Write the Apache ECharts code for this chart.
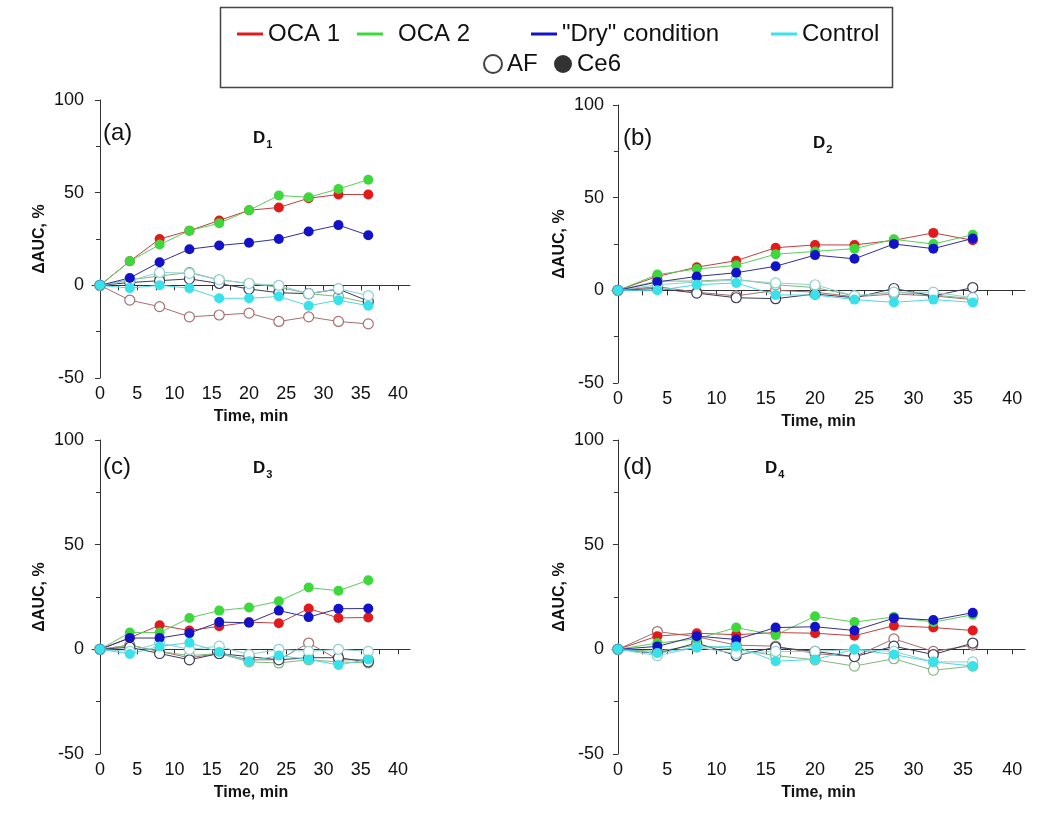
<!DOCTYPE html>
<html lang="en">
<head>
    <meta charset="UTF-8">
    <title>AUC vs time</title>
    <script src="https://cdn.jsdelivr.net/npm/echarts@6.0.0/dist/echarts.min.js"></script>
    <style>
        html, body { margin: 0; padding: 0; background: #fff; }
        #chart { width: 1057px; height: 816px; }
    </style>
</head>
<body>
<div id="chart"></div>
<script>
    // time points, min
    var times = [0, 4, 8, 12, 16, 20, 24, 28, 32, 36];
    var xTickValues = [0, 2.5, 5, 7.5, 10, 12.5, 15, 17.5, 20, 22.5, 25, 27.5, 30, 32.5, 35, 37.5, 40];
    var xLabelValues = [0, 5, 10, 15, 20, 25, 30, 35, 40];
    var panelLetters = ['(a)', '(b)', '(c)', '(d)'];
    var panelSubs = ['1', '2', '3', '4'];
    var condNames = ['OCA 1', 'OCA 2', '"Dry" condition', 'Control'];

    // D1
    var D1_OCA1_Ce6 = [0, 13, 25, 29.5, 35, 40.5, 42, 47, 49, 49];
    var D1_OCA2_Ce6 = [0, 13, 22, 29.5, 33.5, 40.5, 48.5, 47.5, 52, 57];
    var D1_Dry_Ce6 = [0, 4, 12.5, 19.5, 21.5, 23, 25, 29, 32.5, 27];
    var D1_Ctrl_Ce6 = [0, -1.5, 0, -1.5, -7, -7, -6, -11, -8, -11];
    var D1_OCA1_AF = [0, -8, -11.5, -17, -16, -15, -19.5, -17, -19.5, -20.8];
    var D1_OCA2_AF = [0, 3, 5, 7, 3, 1, -1, -4.5, -6, -9.5];
    var D1_Dry_AF = [0, 1.5, 2.5, 3.5, 1, -2, -4, -4.5, -2, -8.5];
    var D1_Ctrl_AF = [0, 2.5, 7, 6.5, 3, 1, 0, -4.5, -1.8, -5.5];

    // D2
    var D2_OCA1_Ce6 = [0, 7.5, 12.5, 16, 23, 24.5, 24.5, 27, 31, 27];
    var D2_OCA2_Ce6 = [0, 8.5, 11.5, 13.5, 19.5, 21, 22.5, 27.5, 25, 30];
    var D2_Dry_Ce6 = [0, 4.5, 7.5, 9.5, 13, 19, 17, 25, 22.5, 28];
    var D2_Ctrl_Ce6 = [0, 0, 3, 4, -2.5, -2.5, -5, -6.5, -5, -6.5];
    var D2_OCA1_AF = [0, 2, -1, -3, 0, -1, -3.5, -2, -3, -5];
    var D2_OCA2_AF = [0, 5, 5, 6, 3, 1.5, -3, -1, -2.5, -4.5];
    var D2_Dry_AF = [0, 1, -1.5, -4, -4.5, -2, -4, 1, -3, 1.5];
    var D2_Ctrl_AF = [0, 3, 4.5, 5.5, 4, 3, -3, -1, -1, -4];

    // D3
    var D3_OCA1_Ce6 = [0, 5.5, 11.5, 9, 11, 13, 12.5, 19.5, 15, 15.2];
    var D3_OCA2_Ce6 = [0, 8, 8, 15, 18.5, 20, 23, 29.5, 28, 33];
    var D3_Dry_Ce6 = [0, 5.4, 5.4, 7.7, 13, 12.7, 18.5, 15.4, 19.4, 19.5];
    var D3_Ctrl_Ce6 = [0, -2.2, 1.4, 3.2, -1.3, -5.7, -3, -4.8, -7.5, -4.8];
    var D3_OCA1_AF = [0, 2, -1, -4, -2, -5, -5, 3, -5, -5];
    var D3_OCA2_AF = [0, 2, -1, -3, -2, -6, -6.5, -5, -6, -6.5];
    var D3_Dry_AF = [0, 1, -2, -5, -2, -3.5, -5, -4, -4, -6];
    var D3_Ctrl_AF = [0, -1, 3, 0, 1.5, -2.5, 0, -1, 0, -1];

    // D4
    var D4_OCA1_Ce6 = [0, 6.3, 7.7, 7, 8, 7.7, 6.5, 11.3, 10.4, 9];
    var D4_OCA2_Ce6 = [0, 3, 5, 10.4, 6.8, 15.8, 13, 15.5, 13, 16.5];
    var D4_Dry_Ce6 = [0, 1.4, 6.3, 4.7, 10.4, 10.8, 9, 14.9, 14, 17.5];
    var D4_Ctrl_Ce6 = [0, -1.8, 1, 1.4, -5.7, -4.8, 0, -2.5, -6, -8];
    var D4_OCA1_AF = [0, 8.5, 6, 2, 1.5, -2, -3.5, 5, -1, 2];
    var D4_OCA2_AF = [0, -1, 2, 0, -3, -5, -8, -4.5, -10, -8];
    var D4_Dry_AF = [0, -2, 3, -3, 1, -1, -3.5, 1.5, -2.5, 3];
    var D4_Ctrl_AF = [0, -3, 1, -2, -1, -1, 0, -1, -6, -6];

    var panelsCe6 = [
        [D1_OCA1_Ce6, D1_OCA2_Ce6, D1_Dry_Ce6, D1_Ctrl_Ce6],
        [D2_OCA1_Ce6, D2_OCA2_Ce6, D2_Dry_Ce6, D2_Ctrl_Ce6],
        [D3_OCA1_Ce6, D3_OCA2_Ce6, D3_Dry_Ce6, D3_Ctrl_Ce6],
        [D4_OCA1_Ce6, D4_OCA2_Ce6, D4_Dry_Ce6, D4_Ctrl_Ce6]
    ];
    var panelsAF = [
        [D1_OCA1_AF, D1_OCA2_AF, D1_Dry_AF, D1_Ctrl_AF],
        [D2_OCA1_AF, D2_OCA2_AF, D2_Dry_AF, D2_Ctrl_AF],
        [D3_OCA1_AF, D3_OCA2_AF, D3_Dry_AF, D3_Ctrl_AF],
        [D4_OCA1_AF, D4_OCA2_AF, D4_Dry_AF, D4_Ctrl_AF]
    ];

    // styles
    var fillColors = ['#e11b1b', '#3cd83c', '#1212c8', '#38e2ea'];
    var lineColors = ['#c04040', '#5ccc5c', '#303090', '#50d8e0'];
    var afColors = ['#a86e6e', '#80b880', '#3c3c58', '#90cfd4'];
    var font = 'Liberation Sans';

    // left panels are narrower than right ones in the original figure
    var grids = [
        {left: 92, top: 100, width: 318, height: 278},
        {left: 612, top: 105, width: 413, height: 278},
        {left: 92, top: 440, width: 318, height: 314},
        {left: 612, top: 440, width: 413, height: 314}
    ];
    var xRange = [[-1.07, 41.6], [-0.6, 41.3], [-1.07, 41.6], [-0.6, 41.3]];
    var letterPos = [[98, 116], [618, 121], [98, 450], [618, 450]];
    var subPos = [[248, 122], [808, 127], [248, 452], [760, 452]];

    function pairs(arr) {
        return times.map(function (t, i) { return [t, arr[i]]; });
    }

    var chart = echarts.init(document.getElementById('chart'), null, {renderer: 'canvas'});

    var xAxes = [], yAxes = [], series = [], titles = [];
    grids.forEach(function (g, p) {
        g.containLabel = false;
        g.outerBoundsMode = 'none';
        xAxes.push({
            type: 'value', gridIndex: p, min: xRange[p][0], max: xRange[p][1],
            name: 'Time, min', nameLocation: 'middle', nameGap: 31,
            nameTextStyle: {fontFamily: font, fontWeight: 'bold', fontSize: 16, color: '#111'},
            axisLine: {show: true, lineStyle: {color: '#333', width: 1}},
            axisTick: {show: true, length: 5, customValues: xTickValues, lineStyle: {color: '#333'}},
            axisLabel: {customValues: xLabelValues, fontFamily: font, fontSize: 18, color: '#111', margin: 7},
            splitLine: {show: false}
        });
        yAxes.push({
            type: 'value', gridIndex: p, min: -50, max: 100, interval: 50,
            name: 'ΔAUC, %', nameLocation: 'middle', nameGap: 44,
            nameTextStyle: {fontFamily: font, fontWeight: 'bold', fontSize: 16, color: '#111'},
            axisLine: {show: true, lineStyle: {color: '#333', width: 1}},
            axisTick: {show: true, length: 5, lineStyle: {color: '#333'}},
            minorTick: {show: true, splitNumber: 2, length: 4, lineStyle: {color: '#333'}},
            axisLabel: {fontFamily: font, fontSize: 18, color: '#111', margin: 8},
            splitLine: {show: false}
        });
        titles.push({
            text: panelLetters[p], left: letterPos[p][0], top: letterPos[p][1],
            textStyle: {fontFamily: font, fontSize: 24, fontWeight: 'normal', color: '#111'}
        });
        titles.push({
            text: '{b|D}{s|' + panelSubs[p] + '}', left: subPos[p][0], top: subPos[p][1],
            textStyle: {
                rich: {
                    b: {fontFamily: font, fontSize: 17, fontWeight: 'bold', color: '#111'},
                    s: {fontFamily: font, fontSize: 11, fontWeight: 'bold', color: '#111', padding: [12, 0, 0, 1]}
                }
            }
        });

        panelsAF[p].forEach(function (arr, c) {
            series.push({
                type: 'line', name: condNames[c] + ' AF', xAxisIndex: p, yAxisIndex: p,
                data: pairs(arr), symbol: 'circle', symbolSize: 10,
                itemStyle: {color: '#ffffff', borderColor: afColors[c], borderWidth: 1.2},
                lineStyle: {color: afColors[c], width: 1},
                emphasis: {disabled: true}
            });
        });
        panelsCe6[p].forEach(function (arr, c) {
            series.push({
                type: 'line', name: condNames[c] + ' Ce6', xAxisIndex: p, yAxisIndex: p,
                data: pairs(arr), symbol: 'circle', symbolSize: 10,
                itemStyle: {color: fillColors[c], borderWidth: 0},
                lineStyle: {color: lineColors[c], width: 1},
                emphasis: {disabled: true}
            });
        });
    });

    // empty series that only feed the legend
    condNames.forEach(function (n, c) {
        series.push({type: 'line', name: n, xAxisIndex: 0, yAxisIndex: 0, data: [],
            itemStyle: {color: fillColors[c]}, lineStyle: {color: fillColors[c]}});
    });
    series.push({type: 'scatter', name: 'AF', xAxisIndex: 0, yAxisIndex: 0, data: [],
        itemStyle: {color: '#ffffff', borderColor: '#111', borderWidth: 1.2}});
    series.push({type: 'scatter', name: 'Ce6', xAxisIndex: 0, yAxisIndex: 0, data: [],
        itemStyle: {color: '#000000'}});

    var legendText = {fontFamily: font, fontSize: 24, color: '#111'};
    var legendLeft = [232, 352, 526, 766];
    var legends = condNames.map(function (n, c) {
        return {
            data: [n], left: legendLeft[c], top: 17, icon: 'rect', itemWidth: 26, itemHeight: 3,
            itemGap: 0, selectedMode: false,
            textStyle: c === 1 ? Object.assign({padding: [0, 0, 0, 10]}, legendText) : legendText
        };
    });
    legends.push({data: ['AF'], left: 478, top: 47, icon: 'circle', itemWidth: 18, itemHeight: 18,
        selectedMode: false, textStyle: legendText});
    legends.push({data: ['Ce6'], left: 549, top: 47, icon: 'circle', itemWidth: 18, itemHeight: 18,
        selectedMode: false, textStyle: legendText});

    chart.setOption({
        animation: false,
        backgroundColor: '#ffffff',
        title: titles,
        legend: legends,
        grid: grids,
        xAxis: xAxes,
        yAxis: yAxes,
        graphic: [{
            type: 'rect', left: 218, top: 5,
            shape: {width: 672, height: 80},
            style: {fill: 'none', stroke: '#444', lineWidth: 1.5}
        }],
        series: series
    });
</script>
</body>
</html>
